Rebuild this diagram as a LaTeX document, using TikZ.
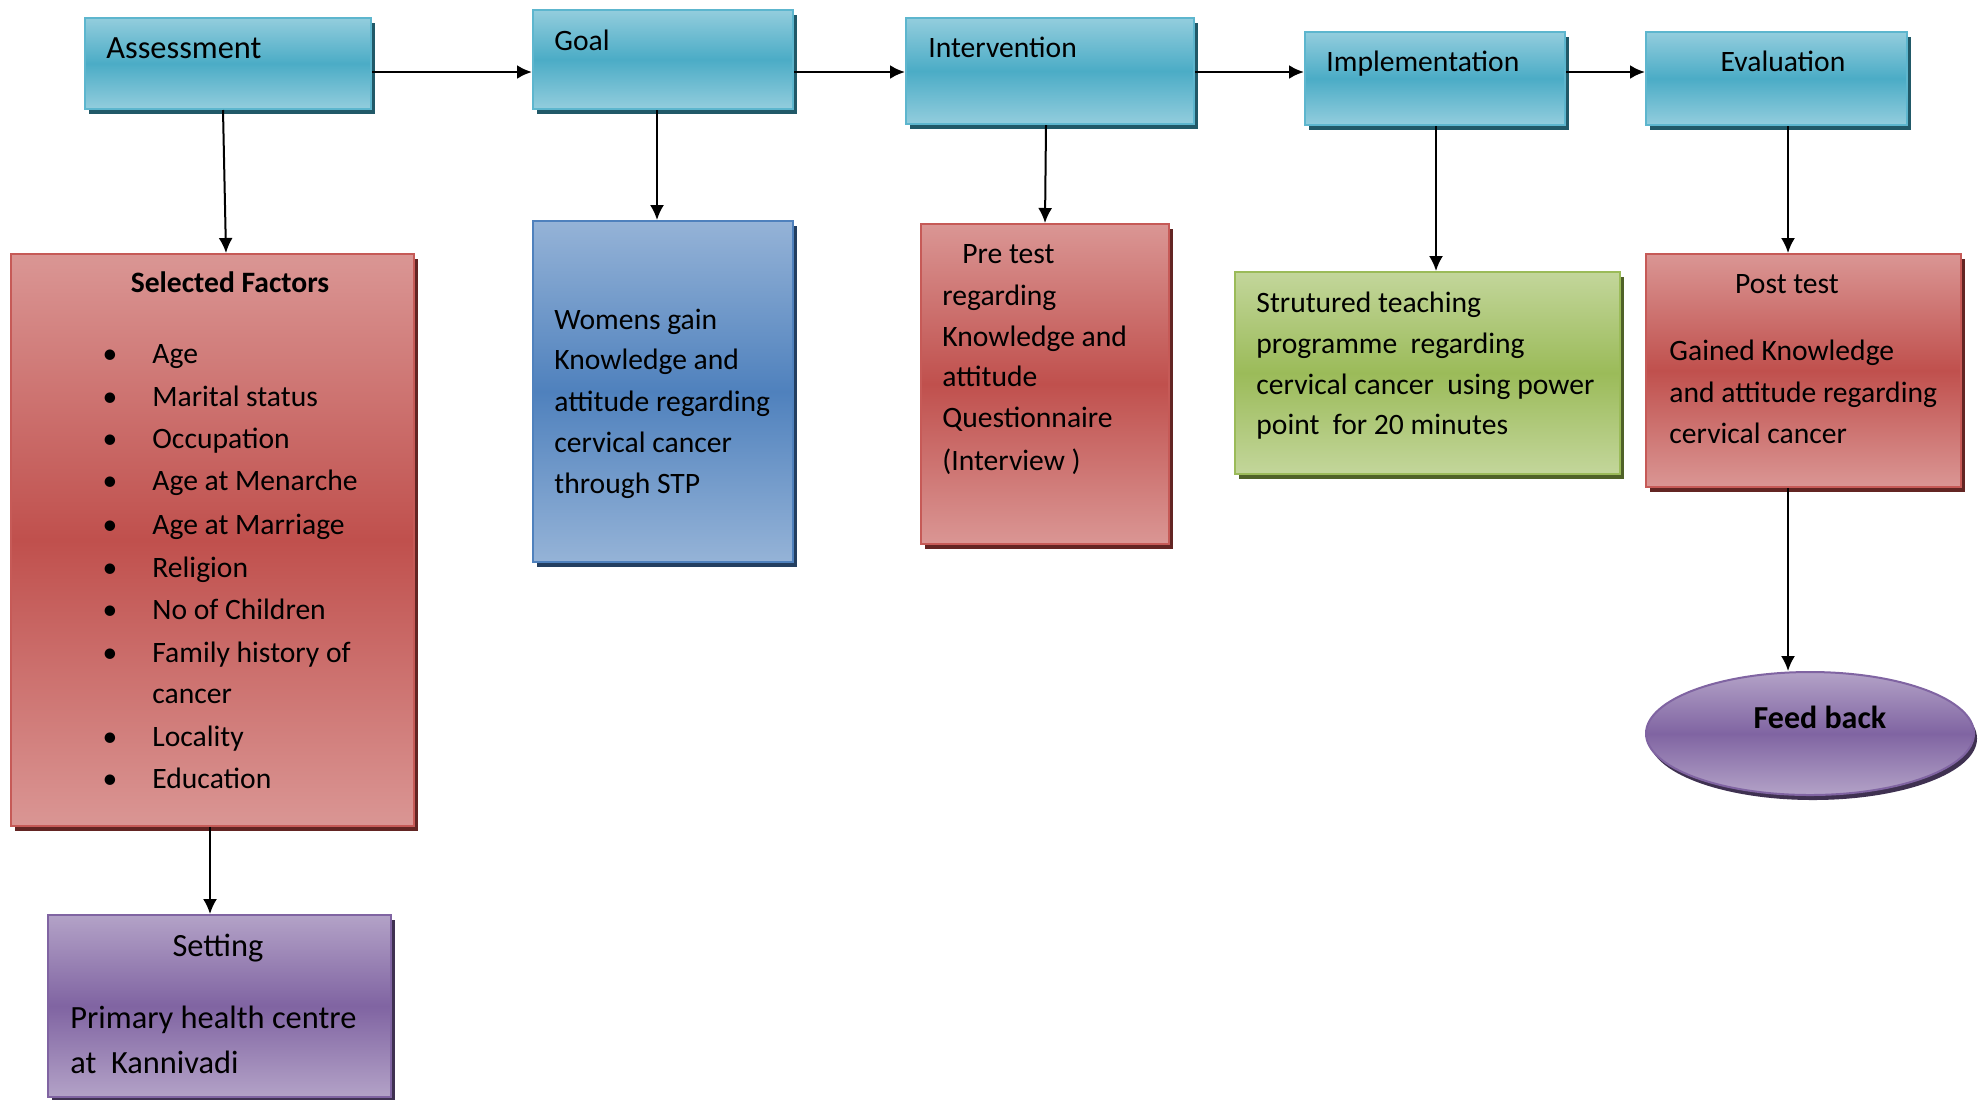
\documentclass[tikz,border=0pt]{standalone}
\usepackage{fontspec}
\setmainfont{Carlito}
\usetikzlibrary{arrows.meta,shadows,calc,shapes.geometric}
\definecolor{cyL}{HTML}{93CDDD}\definecolor{cyD}{HTML}{4BACC6}\definecolor{cyB}{HTML}{5DB6CE}\definecolor{cyS}{HTML}{215968}
\definecolor{rdL}{HTML}{DA9694}\definecolor{rdD}{HTML}{C0504D}\definecolor{rdB}{HTML}{C65A57}\definecolor{rdS}{HTML}{632523}
\definecolor{blL}{HTML}{95B3D7}\definecolor{blD}{HTML}{4F81BD}\definecolor{blB}{HTML}{4F81BD}\definecolor{blS}{HTML}{243F60}
\definecolor{grL}{HTML}{C3D69B}\definecolor{grD}{HTML}{9BBB59}\definecolor{grB}{HTML}{9BBB59}\definecolor{grS}{HTML}{4F6228}
\definecolor{puL}{HTML}{B3A2C7}\definecolor{puD}{HTML}{8064A2}\definecolor{puB}{HTML}{8064A2}\definecolor{puS}{HTML}{3F3151}
\tikzset{
  box/.style={rectangle, draw, line width=1pt, inner sep=0pt},
  cybox/.style={box, draw=cyB, top color=cyL, bottom color=cyL, middle color=cyD, drop shadow={shadow xshift=2pt, shadow yshift=-2.5pt, fill=cyS, opacity=1}},
  rdbox/.style={box, draw=rdB, top color=rdL, bottom color=rdL, middle color=rdD, drop shadow={shadow xshift=2pt, shadow yshift=-2.5pt, fill=rdS, opacity=1}},
  blbox/.style={box, draw=blB, top color=blL, bottom color=blL, middle color=blD, drop shadow={shadow xshift=2pt, shadow yshift=-2.5pt, fill=blS, opacity=1}},
  grbox/.style={box, draw=grB, top color=grL, bottom color=grL, middle color=grD, drop shadow={shadow xshift=2pt, shadow yshift=-2.5pt, fill=grS, opacity=1}},
  pubox/.style={box, draw=puB, top color=puL, bottom color=puL, middle color=puD, drop shadow={shadow xshift=2pt, shadow yshift=-2.5pt, fill=puS, opacity=1}},
  head/.style={anchor=base west, inner sep=0pt, font=\fontsize{14.8}{17}\selectfont},
  headc/.style={head, anchor=base},
  lbl/.style={anchor=base west, inner sep=0pt, font=\fontsize{14.8}{17}\selectfont},
  lblc/.style={lbl, anchor=base},
  big/.style={font=\fontsize{16.2}{19}\selectfont},
  harr/.style={-{Latex[length=7.5pt,width=7pt]}, line width=1.3pt},
  varr/.style={-{Latex[length=7.5pt,width=7pt]}, line width=1pt}
}
\begin{document}
\begin{tikzpicture}[x=0.5pt,y=-0.5pt]
\fill[white] (0,0) rectangle (1984,1099);
\useasboundingbox (0,0) rectangle (1984,1099);
% top row
\node[cybox, minimum width=143pt, minimum height=45.5pt] (ass) at (228,63.5) {};
\node[cybox, minimum width=130pt, minimum height=49.5pt] (goal) at (663,59.5) {};
\node[cybox, minimum width=144pt, minimum height=53pt] (int) at (1050,71) {};
\node[cybox, minimum width=130pt, minimum height=46.5pt] (imp) at (1435,78.5) {};
\node[cybox, minimum width=130.5pt, minimum height=46.5pt] (eva) at (1776.5,78.5) {};
\node[head, big] (assT) at (106,58) {Assessment};
\node[head] (goalT) at (554,50) {Goal};
\node[head] (intT) at (928,57) {Intervention};
\node[head] (impT) at (1326,71) {Implementation};
\node[headc] (evaT) at (1783,71) {Evaluation};
% lower boxes
\node[rdbox, minimum width=201.5pt, minimum height=286pt] (sf) at (212.5,540) {};
\node[blbox, minimum width=130pt, minimum height=170.5pt] (gb) at (663,391.5) {};
\node[rdbox, minimum width=124pt, minimum height=160pt] (pre) at (1045,384) {};
\node[grbox, minimum width=192.5pt, minimum height=101pt] (stp) at (1427.5,373) {};
\node[rdbox, minimum width=157.5pt, minimum height=116.5pt] (post) at (1803.5,370.5) {};
\node[ellipse, draw=puB, line width=1pt, inner sep=0pt, top color=puL, bottom color=puL, middle color=puD, drop shadow={shadow xshift=1.5pt, shadow yshift=-2.5pt, fill=puS, opacity=1}, minimum width=164pt, minimum height=61.5pt] (fb) at (1810,733.5) {};
\node[pubox, minimum width=171.5pt, minimum height=91pt] (set) at (219.5,1006) {};
% Selected factors text
\node[lblc, font=\fontsize{14.8}{17}\selectfont\bfseries] (sfT) at (230,292) {Selected Factors};
\foreach \t/\yy [count=\i] in {Age/363, Marital status/406, Occupation/448, Age at Menarche/490, Age at Marriage/534, Religion/577, No of Children/619, Family history of/662, Locality/746, Education/788}
  \node[lbl] (sf\i) at (152,\yy) {\llap{\textbullet\hspace{17.5pt}}\t};
\node[lbl] (sfc) at (152,703) {cancer};
% goal text
\foreach \t/\yy [count=\i] in {Womens gain/329, Knowledge and/369, attitude regarding/411, cervical cancer/452, through STP/493}
  \node[lbl] (gb\i) at (554,\yy) {\t};
% pre test text
\node[lbl] (pre0) at (962,263) {Pre test};
\foreach \t/\yy [count=\i] in {regarding/305, Knowledge and/346, attitude/386, Questionnaire/427, (Interview )/470}
  \node[lbl] (pre\i) at (942,\yy) {\t};
% stp text
\node[lbl] (stp1) at (1256,312) {Strutured teaching};
\node[lbl] (stp2) at (1256,353) {programme\ \ regarding};
\node[lbl] (stp3) at (1256,394) {cervical cancer\ \ using power};
\node[lbl] (stp4) at (1256,434) {point\ \ for 20 minutes};
% post test text
\node[lblc] (post0) at (1787,293) {Post test};
\node[lbl] (post1) at (1669,360) {Gained Knowledge};
\node[lbl] (post2) at (1669,402) {and attitude regarding};
\node[lbl] (post3) at (1669,443) {cervical cancer};
% feed back
\node[lblc, font=\fontsize{16}{19}\selectfont\bfseries] (fbT) at (1820,728) {Feed back};
% setting
\node[lblc, big] (setT) at (218,956) {Setting};
\node[lbl, big] (set1) at (70,1028) {Primary health centre};
\node[lbl, big] (set2) at (70,1073) {at\ \ Kannivadi};
% arrows
\coordinate (hl) at (0,72);
\draw[harr] (ass.east |- hl) -- (goal.west |- hl);
\draw[harr] (goal.east |- hl) -- (int.west |- hl);
\draw[harr] (int.east |- hl) -- (imp.west |- hl);
\draw[harr] (imp.east |- hl) -- (eva.west |- hl);
\draw[varr] ([xshift=-2.5pt]ass.south) -- ([xshift=6.75pt]sf.north);
\draw[varr] ([xshift=-3pt]goal.south) -- ([xshift=-3pt]gb.north);
\draw[varr] ([xshift=-2pt]int.south) -- (pre.north);
\draw[varr] ([xshift=0.5pt]imp.south) -- ([xshift=4.25pt]stp.north);
\draw[varr] ([xshift=5.75pt]eva.south) -- ([xshift=-7.75pt]post.north);
\draw[varr] ([xshift=-7.75pt]post.south) -- ([xshift=-11pt]fb.north);
\draw[varr] ([xshift=-1.25pt]sf.south) -- ([xshift=-4.75pt]set.north);
\end{tikzpicture}
\end{document}
